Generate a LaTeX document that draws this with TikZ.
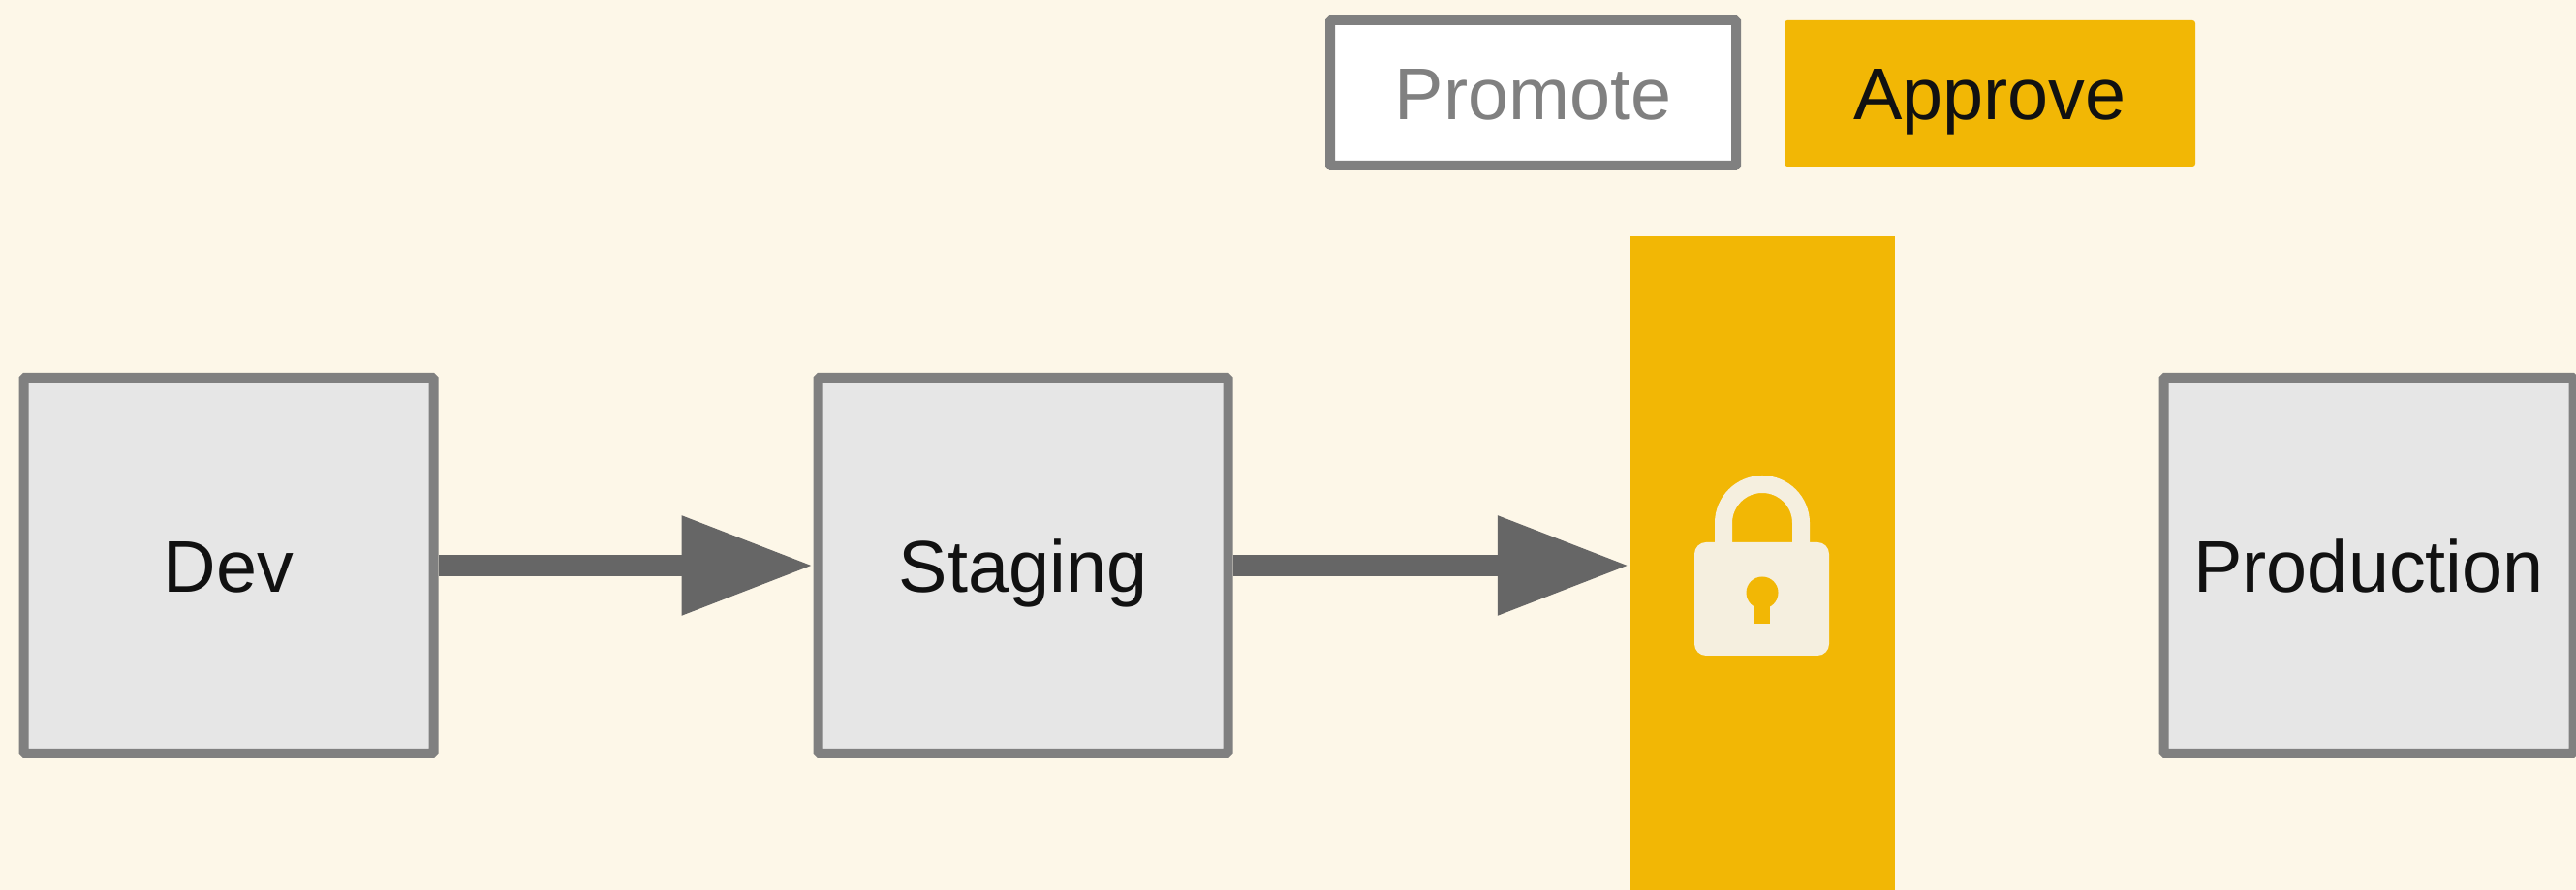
\documentclass[tikz,border=0pt]{standalone}
\usepackage{fontspec}
\setmainfont{Liberation Sans}
\usetikzlibrary{arrows.meta}
\definecolor{pagecream}{HTML}{FDF7E8}
\definecolor{boxgrey}{HTML}{E6E6E6}
\definecolor{edgegrey}{HTML}{808080}
\definecolor{flowgrey}{HTML}{666666}
\definecolor{gateamber}{HTML}{F2B705}
\definecolor{lockcream}{HTML}{F5EFDF}
\definecolor{inkblack}{HTML}{111111}
\tikzset{
    label text/.style = {font = \fontsize{21.5}{25}\selectfont, text = inkblack, text height = 15.4pt, text depth = 0pt, inner sep = 0pt},
    stage/.style = {label text, draw = edgegrey, fill = boxgrey, line width = 0.1cm, rounded corners = 0.015cm, minimum width = 4.23cm, minimum height = 3.88cm},
    promote button/.style = {label text, text = edgegrey, draw = edgegrey, fill = white, line width = 0.1cm, rounded corners = 0.015cm, minimum width = 4.19cm, minimum height = 1.5cm},
    approve button/.style = {label text, fill = gateamber, rounded corners = 0.03cm, minimum width = 4.24cm, minimum height = 1.51cm},
    gate bar/.style = {fill = gateamber, minimum width = 2.73cm, minimum height = 6.75cm, inner sep = 0pt},
    flow/.style = {draw = flowgrey, line width = 0.22cm, -{Triangle[length = 1.36cm, width = 0.97cm]}},
    lock part/.style = {fill = lockcream, draw = none}
}
\begin{document}
\begin{tikzpicture}
    \useasboundingbox (0,0) rectangle (26.59,9.19);
    \fill [pagecream] (0,0) rectangle (26.59,9.19);
    \coordinate (D) at (2.36,3.35);
    \coordinate (S) at (10.56,3.35);
    \coordinate (P) at (24.45,3.35);
    \coordinate (G) at (18.19,3.375);
    \coordinate (K) at (18.19,3.07);
    \node (gate) at (G) [gate bar] {};
    \node (dev) at (D) [stage] {Dev};
    \node (staging) at (S) [stage] {Staging};
    \node (production) at (P) [stage] {Production};
    \node (promote) at (15.825,8.23) [promote button] {Promote};
    \node (approve) at (20.54,8.225) [approve button] {Approve};
    \coordinate (gate in) at (staging.east -| gate.west);
    \draw [flow] (dev) -- (staging);
    \draw [flow] (staging) -- (gate in);
    \draw [draw = lockcream, line width = 0.18cm] (17.79,3.5) -- (17.79,3.79) arc (180:0:0.40) -- (18.59,3.5);
    \fill [lock part, rounded corners = 0.12cm] (17.49,2.42) rectangle (18.88,3.59);
    \fill [gateamber] (K) circle (0.165cm);
    \fill [gateamber] (18.11,3.07) rectangle (18.27,2.75);
\end{tikzpicture}
\end{document}
